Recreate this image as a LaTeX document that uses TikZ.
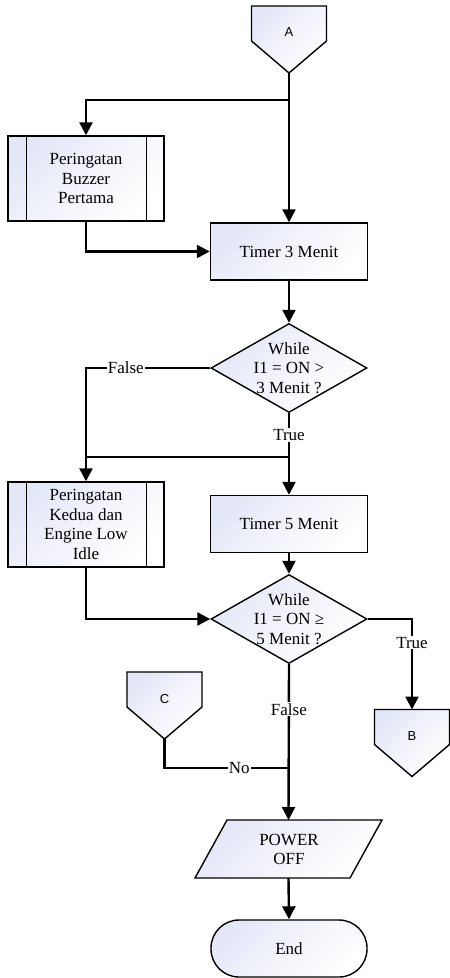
\documentclass[tikz,border=0pt]{standalone}
\usepackage{fontspec}
\setmainfont{Liberation Serif}
\newfontfamily\connfont{Liberation Sans}
\usetikzlibrary{arrows.meta,calc,shapes.geometric}
\definecolor{fillc}{RGB}{228,231,247}
\definecolor{fillm}{RGB}{243,244,251}
\begin{document}
\begin{tikzpicture}[x=1pt,y=-1pt,
  every node/.style={font=\fontsize{17}{19.5}\selectfont},
  shapefill/.style={draw, line width=1.4pt, top color=fillc, bottom color=white, middle color=fillm, shading angle=45},
  box/.style={shapefill, align=center, inner sep=0pt},
  procbox/.style={box, minimum width=157pt, minimum height=57pt},
  subbox/.style={box, minimum width=156pt, minimum height=85pt},
  decbox/.style={box, shape=diamond, minimum width=156pt, minimum height=89pt},
  shapebox/.style={inner sep=0pt, outer sep=0pt},
  connbox/.style={shapebox, minimum width=75pt, minimum height=67pt},
  flow/.style={line width=2.4pt},
  arr/.style={flow, -{Triangle[length=13pt,width=13pt]}},
  lbl/.style={fill=white, inner sep=1pt},
  conntext/.style={font=\connfont\fontsize{13}{15}\selectfont},
  bar/.style={line width=1.4pt}
]
\useasboundingbox (0,0) rectangle (450,978);

% off-page connectors
\node[connbox] (A) at (289,39.5) {};
\path[shapefill] (A.north west) -- (A.north east) -- ($(A.north east)+(0,35)$)
  -- (A.south) -- ($(A.north west)+(0,35)$) -- cycle;
\node[conntext] (At) at (289,32) {A};

\node[connbox] (B) at (412,743) {};
\path[shapefill] (B.north west) -- (B.north east) -- ($(B.north east)+(0,35)$)
  -- (B.south) -- ($(B.north west)+(0,35)$) -- cycle;
\node[conntext] (Bt) at (412,736) {B};

\node[connbox] (C) at (164.5,705.5) {};
\path[shapefill] (C.north west) -- (C.north east) -- ($(C.north east)+(0,35)$)
  -- (C.south) -- ($(C.north west)+(0,35)$) -- cycle;
\node[conntext] (Ct) at (164.5,699) {C};

% predefined processes
\node[subbox] (S1) at (86,178.5) {Peringatan\\Buzzer\\Pertama};
\draw[bar] ($(S1.north west)+(19,0)$) -- ($(S1.south west)+(19,0)$);
\draw[bar] ($(S1.north east)-(18,0)$) -- ($(S1.south east)-(18,0)$);

\node[subbox] (S2) at (86,524.5) {Peringatan\\Kedua dan\\Engine Low\\Idle};
\draw[bar] ($(S2.north west)+(19,0)$) -- ($(S2.south west)+(19,0)$);
\draw[bar] ($(S2.north east)-(18,0)$) -- ($(S2.south east)-(18,0)$);

% timers
\node[procbox] (T3) at (289,251.5) {Timer 3 Menit};
\node[procbox] (T5) at (289,524) {Timer 5 Menit};

% decisions
\node[decbox] (D1) at (289,368) {};
\node[align=center] (D1t) at (289,368) {While\\I1 = ON >\\3 Menit ?};
\node[decbox] (D2) at (289,619) {};
\node[align=center] (D2t) at (289,619) {While\\I1 = ON ≥\\5 Menit ?};

% output
\node[shapebox, minimum width=187pt, minimum height=58pt] (P) at (288.5,849) {};
\path[shapefill] ($(P.north west)+(32,0)$) -- (P.north east)
  -- ($(P.south east)-(32,0)$) -- (P.south west) -- cycle;
\node[align=center] (Pt) at (289,849.5) {POWER\\OFF};

% terminator
\node[box, rounded corners=28pt, minimum width=156pt, minimum height=57pt] (E) at (289,948.5) {End};

% connectors
\coordinate (j1) at (289,100);
\coordinate (j2) at (289,457);
\coordinate (j4) at (289,768);

\draw[arr] (A.south) -- (T3.north);
\draw[arr] (j1) -| (S1.north);
\draw[arr] (S1.south) |- (T3.west);
\draw[arr] (T3.south) -- (D1.north);
\draw[arr] (D1.west) -| node[lbl, pos=0.34] (lf1) {False} (S2.north);
\draw[flow] (D1.south) -- node[lbl] (lt1) {True} (j2);
\draw[flow] (j2) -- (j2 -| S2.north);
\draw[arr] (j2) -- (T5.north);
\draw[arr] (T5.south) -- (D2.north);
\draw[arr] (S2.south) |- (D2.west);
\draw[arr] (D2.east) -| node[lbl, pos=0.63] (lt2) {True} (B.north);
\draw[arr] (D2.south) -- node[lbl, pos=0.29] (lf2) {False} (P.north);
\draw[flow] (C.south) |- node[lbl, pos=0.8] (lno) {No} (j4);
\draw[arr] (P.south) -- (E.north);
\end{tikzpicture}
\end{document}
